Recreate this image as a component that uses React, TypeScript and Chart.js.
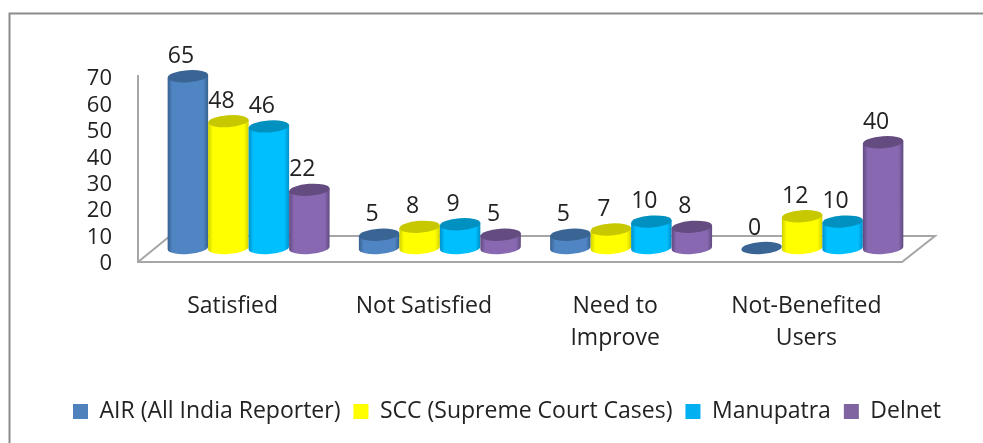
import React, { useEffect, useRef } from "react";
import { Chart, registerables } from "chart.js";

Chart.register(...registerables);

const categories: (string | string[])[] = ["Satisfied", "Not Satisfied", ["Need to", "Improve"], ["Not-Benefited", "Users"]];
const seriesNames = ["AIR (All India Reporter)", "SCC (Supreme Court Cases)", "Manupatra", "Delnet"];
const airValues = [65, 5, 5, 0];
const sccValues = [48, 8, 7, 12];
const manupatraValues = [46, 9, 10, 10];
const delnetValues = [22, 5, 8, 40];
const yTicksMax = 70;

const legendColors = ["#4F81BD", "#FFFF00", "#00B0F0", "#8064A2"];
const edgeColors = ["#36618F", "#D2D200", "#0090C8", "#5F4A80"];
const midColors = ["#5085C4", "#FFFF00", "#00BFFF", "#8868B0"];
const topColors = ["#3A6494", "#C8C800", "#0091C0", "#644C80"];

const FONT = "'Open Sans', sans-serif";
const DX = 16;
const DY = -13;
const RY = 6;
const TILT = -0.07;

function cylinder(ctx: CanvasRenderingContext2D, x: number, top: number, base: number, w: number, i: number) {
  const rx = w / 2;
  const l = x - rx;
  const r = x + rx;
  const tiltDy = rx * Math.sin(TILT);
  if (base - top > 0.5) {
    const g = ctx.createLinearGradient(l, 0, r, 0);
    g.addColorStop(0, edgeColors[i]);
    g.addColorStop(0.12, midColors[i]);
    g.addColorStop(0.6, midColors[i]);
    g.addColorStop(0.88, midColors[i]);
    g.addColorStop(1, edgeColors[i]);
    ctx.beginPath();
    ctx.moveTo(l, top - tiltDy);
    ctx.lineTo(l, base - tiltDy);
    ctx.ellipse(x, base, rx, RY, TILT, Math.PI, 0, true);
    ctx.lineTo(r, top + tiltDy);
    ctx.closePath();
    ctx.fillStyle = g;
    ctx.fill();
  }
  ctx.beginPath();
  ctx.ellipse(x, top, rx, RY, TILT, 0, Math.PI * 2);
  ctx.fillStyle = topColors[i];
  ctx.fill();
}

const cylinderPlugin = {
  id: "cylinders",
  afterLayout(chart: any) {
    chart.legend.left += 56;
    chart.legend.right += 56;
    chart.legend.top += 3;
    chart.legend.bottom += 3;
  },
  beforeDraw(chart: any) {
    const { ctx, width, height, chartArea: a } = chart;
    ctx.save();
    ctx.fillStyle = "#ffffff";
    ctx.fillRect(0, 0, width, height);
    ctx.strokeStyle = "#8C8C8C";
    ctx.lineWidth = 2;
    ctx.beginPath();
    ctx.moveTo(9.5, height);
    ctx.lineTo(9.5, 13.5);
    ctx.lineTo(width, 13.5);
    ctx.stroke();

    ctx.strokeStyle = "#A6A6A6";
    ctx.lineWidth = 2;
    ctx.beginPath();
    ctx.moveTo(a.left + 1, a.top - 1);
    ctx.lineTo(a.left + 1, a.bottom + 1);
    ctx.lineTo(a.right, a.bottom + 1);
    ctx.lineTo(a.right + 33, a.bottom - 25);
    ctx.lineTo(a.left + 33, a.bottom - 25);
    ctx.lineTo(a.left + 1, a.bottom + 1);
    ctx.stroke();
    ctx.restore();
  },
  beforeDatasetDraw() {
    return false;
  },
  afterDatasetsDraw(chart: any) {
    const { ctx } = chart;
    ctx.save();
    chart.data.datasets.forEach((_: any, i: number) => {
      chart.getDatasetMeta(i).data.forEach((el: any) => {
        cylinder(ctx, el.x + DX, el.y + DY, el.base + DY, el.width, i);
      });
    });
    ctx.fillStyle = "#222222";
    ctx.font = `23px ${FONT}`;
    ctx.textAlign = "center";
    ctx.textBaseline = "middle";
    chart.data.datasets.forEach((ds: any, i: number) => {
      chart.getDatasetMeta(i).data.forEach((el: any, j: number) => {
        ctx.fillText(String(ds.data[j]), el.x + DX - 7, el.y + DY - 20);
      });
    });
    ctx.restore();
  },
};

export default function App() {
  const ref = useRef<HTMLCanvasElement>(null);
  useEffect(() => {
    document.body.style.margin = "0";
    const allValues = [airValues, sccValues, manupatraValues, delnetValues];
    const chart = new Chart(ref.current!, {
      type: "bar",
      data: {
        labels: categories as any,
        datasets: seriesNames.map((name, i) => ({
          label: name,
          data: allValues[i],
          backgroundColor: legendColors[i],
          categoryPercentage: 0.847,
          barPercentage: 1,
        })),
      },
      options: {
        animation: false,
        responsive: false,
        devicePixelRatio: 1,
        layout: { padding: { left: 0, right: 81, top: 76, bottom: 13 } },
        plugins: {
          tooltip: { enabled: false },
          title: { display: false },
          legend: {
            display: true,
            position: "bottom",
            align: "center",
            labels: {
              boxWidth: 15,
              boxHeight: 15,
              padding: 13,
              color: "#222222",
              font: { family: FONT, size: 23 },
            },
          },
        },
        scales: {
          x: {
            grid: { display: false, drawTicks: false },
            border: { display: false },
            ticks: {
              autoSkip: false,
              maxRotation: 0,
              minRotation: 0,
              padding: 30,
              color: "#222222",
              font: { family: FONT, size: 23, lineHeight: 1.37 },
            },
            afterFit(s: any) {
              s.height = 123;
            },
          },
          y: {
            min: 0,
            max: yTicksMax,
            grid: { display: false, drawTicks: false },
            border: { display: false },
            ticks: {
              stepSize: 10,
              autoSkip: false,
              padding: 25,
              labelOffset: 3,
              color: "#222222",
              font: { family: FONT, size: 22 },
            },
            afterFit(s: any) {
              s.width = 137;
            },
          },
        },
      },
      plugins: [cylinderPlugin],
    } as any);
    return () => chart.destroy();
  }, []);
  return <canvas ref={ref} width={983} height={443} style={{ display: "block" }} />;
}
